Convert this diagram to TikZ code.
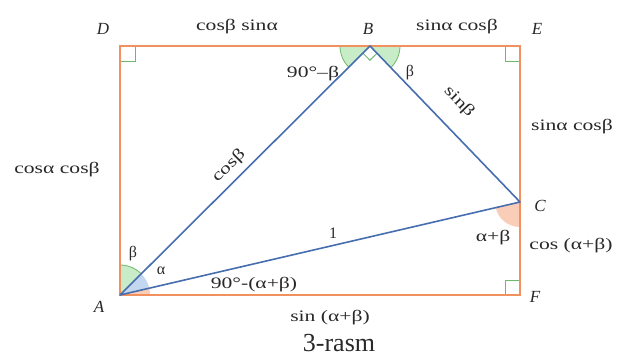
\documentclass[tikz,border=0pt]{standalone}
\usepackage{fontspec}
\setmainfont{Liberation Serif}
\usetikzlibrary{calc}
\definecolor{rectc}{RGB}{240,145,95}
\definecolor{linec}{RGB}{70,110,175}
\definecolor{grc}{RGB}{110,185,110}
\definecolor{grf}{RGB}{200,235,200}
\definecolor{blf}{RGB}{195,215,240}
\definecolor{orf}{RGB}{250,205,185}
\definecolor{txt}{RGB}{40,40,40}
\newcommand{\stretchtxt}[1]{\scalebox{1.35}[1]{#1}}
\tikzset{
  lbl/.style={text=txt,font=\fontsize{16}{18}\selectfont,inner sep=0pt},
  ptl/.style={text=txt,font=\fontsize{17}{19}\selectfont\itshape,inner sep=0pt},
  rect/.style={draw=rectc,line width=1.8pt},
  side/.style={draw=linec,line width=1.6pt},
  ra/.style={draw=grc,line width=0.9pt},
}
\begin{document}
\begin{tikzpicture}[x=1pt,y=1pt]
\useasboundingbox (0,0) rectangle (628,-358);
\coordinate (A) at (120,-295);
\coordinate (B) at (370,-46);
\coordinate (C) at (520,-202);
\coordinate (D) at (120,-46);
\coordinate (E) at (520,-46);
\coordinate (F) at (520,-295);
% angle wedges
\fill[grf] (A) -- ++(44.9:30pt) arc[start angle=44.9,end angle=90,radius=30pt] -- cycle;
\draw[grc,line width=0.8pt] ($(A)+(44.9:30pt)$) arc[start angle=44.9,end angle=90,radius=30pt];
\fill[blf] (A) -- ++(13.1:30pt) arc[start angle=13.1,end angle=44.9,radius=30pt] -- cycle;
\fill[orf] (A) -- ++(0:30pt) arc[start angle=0,end angle=13.1,radius=30pt] -- cycle;
\fill[grf] (B) -- ++(180:30pt) arc[start angle=180,end angle=224.9,radius=30pt] -- cycle;
\draw[grc,line width=0.8pt] ($(B)+(180:30pt)$) arc[start angle=180,end angle=224.9,radius=30pt];
\fill[grf] (B) -- ++(313.9:30pt) arc[start angle=313.9,end angle=360,radius=30pt] -- cycle;
\draw[grc,line width=0.8pt] ($(B)+(313.9:30pt)$) arc[start angle=313.9,end angle=360,radius=30pt];
\fill[orf] (C) -- ++(193.1:25pt) arc[start angle=193.1,end angle=270,radius=25pt] -- cycle;
% right angle marks
\draw[ra] ($(B)+(224.9:10pt)$) -- ($(B)+(224.9:10pt)+(313.9:10pt)$) -- ($(B)+(313.9:10pt)$);
\draw[ra] ($(D)+(0,-15)$) -- ++(15,0) -- ++(0,15);
\draw[ra] ($(E)+(0,-15)$) -- ++(-15,0) -- ++(0,15);
\draw[ra] ($(F)+(0,15)$) -- ++(-15,0) -- ++(0,-15);
% rectangle and triangle
\draw[rect] (A) -- (D) -- (E) -- (F) -- cycle;
\draw[side,line join=round] (A) -- (B) -- (C) -- cycle;
% vertex labels
\node[ptl] (lD) at (103,-29) {D};
\node[ptl] (lB) at (368,-29) {B};
\node[ptl] (lE) at (537,-29) {E};
\node[ptl] (lC) at (540,-206) {C};
\node[ptl] (lF) at (535,-297) {F};
\node[ptl] (lA) at (99,-307) {A};
% side labels
\node[lbl] (t1) at (237,-27) {\stretchtxt{cosβ sinα}};
\node[lbl] (t2) at (457,-27) {\stretchtxt{sinα cosβ}};
\node[lbl] (t3) at (572,-127) {\stretchtxt{sinα cosβ}};
\node[lbl] (t4) at (57,-170) {\stretchtxt{cosα cosβ}};
\node[lbl,rotate=44.9] (t5) at (229,-166) {\stretchtxt{cosβ}};
\node[lbl,rotate=-46.1] (t6) at (459,-102) {\stretchtxt{sinβ}};
\node[lbl] (t7) at (333,-233) {1};
\node[lbl] (t8) at (571,-246) {\stretchtxt{cos (α+β)}};
\node[lbl] (t9) at (330,-318) {\stretchtxt{sin (α+β)}};
% angle labels
\node[lbl] (a1) at (313,-74) {\stretchtxt{90°–β}};
\node[lbl] (a2) at (410,-73) {β};
\node[lbl] (a3) at (133,-254) {β};
\node[lbl] (a4) at (161,-271) {α};
\node[lbl] (a5) at (254,-285) {\stretchtxt{90°-(α+β)}};
\node[lbl] (a6) at (493,-238) {\stretchtxt{α+β}};
% caption
\node[text=txt,font=\fontsize{26}{28}\selectfont,inner sep=0pt] (cap) at (339,-343) {3-rasm};
\end{tikzpicture}
\end{document}
